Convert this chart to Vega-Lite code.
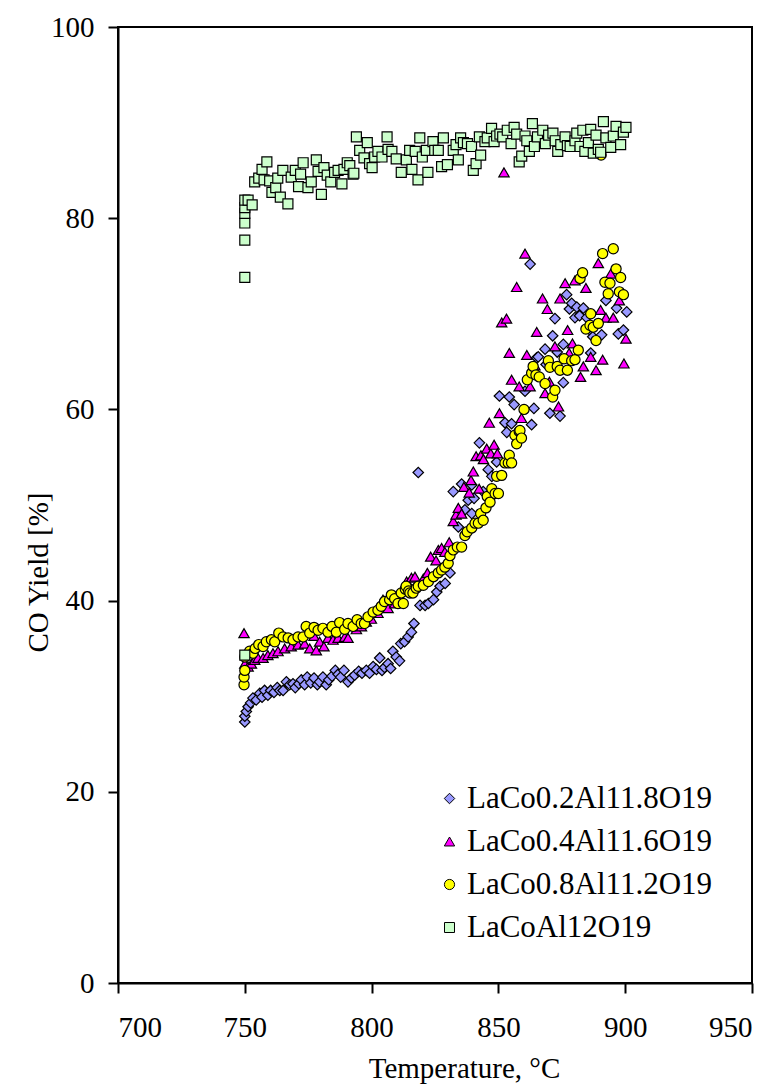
{
  "$schema": "https://vega.github.io/schema/vega-lite/v6.json",
  "width": 634,
  "height": 956,
  "padding": {"left": 118, "top": 27, "right": 29, "bottom": 104},
  "autosize": {"type": "none"},
  "background": "white",
  "config": {
    "view": {"stroke": "black", "strokeWidth": 2},
    "font": "Liberation Serif",
    "axis": {
      "grid": false,
      "domainColor": "black",
      "domainWidth": 2,
      "tickColor": "black",
      "tickWidth": 2,
      "tickSize": 10,
      "labelFont": "Liberation Serif",
      "labelFontSize": 29,
      "labelColor": "black",
      "titleFont": "Liberation Serif",
      "titleFontSize": 29,
      "titleFontWeight": "normal",
      "titleColor": "black"
    },
    "legend": {
      "labelFont": "Liberation Serif",
      "labelFontSize": 31,
      "labelColor": "black",
      "labelLimit": 0
    }
  },
  "data": {"values": [
{"s":"A","t":750,"y":27.3},{"s":"A","t":750,"y":27.9},{"s":"A","t":750.6,"y":28.4},{"s":"A","t":751.3,"y":28.9},{"s":"A","t":752.3,"y":29.3},{"s":"A","t":753.2,"y":29.8},{"s":"A","t":754.5,"y":29.6},{"s":"A","t":755.9,"y":30.3},{"s":"A","t":756.8,"y":29.9},{"s":"A","t":757.8,"y":30.6},{"s":"A","t":759.1,"y":30.1},{"s":"A","t":760.2,"y":30.6},{"s":"A","t":761.5,"y":30.4},{"s":"A","t":762.8,"y":30.9},{"s":"A","t":763.8,"y":30.6},{"s":"A","t":765.1,"y":30.6},{"s":"A","t":766.4,"y":31.5},{"s":"A","t":767.7,"y":31.2},{"s":"A","t":769,"y":31.3},{"s":"A","t":769.9,"y":30.9},{"s":"A","t":771.3,"y":31.3},{"s":"A","t":772.3,"y":31.7},{"s":"A","t":773.6,"y":31.2},{"s":"A","t":774.6,"y":32.0},{"s":"A","t":776,"y":31.4},{"s":"A","t":777.3,"y":31.9},{"s":"A","t":778.6,"y":31.2},{"s":"A","t":779.5,"y":31.5},{"s":"A","t":780.8,"y":32.0},{"s":"A","t":782.1,"y":31.2},{"s":"A","t":783.1,"y":31.7},{"s":"A","t":784.4,"y":32.1},{"s":"A","t":785.7,"y":32.7},{"s":"A","t":786.8,"y":32.3},{"s":"A","t":787.8,"y":32.0},{"s":"A","t":789.1,"y":32.7},{"s":"A","t":790.7,"y":31.5},{"s":"A","t":792,"y":31.9},{"s":"A","t":793.3,"y":32.2},{"s":"A","t":794.9,"y":32.6},{"s":"A","t":796.2,"y":32.4},{"s":"A","t":797.9,"y":32.7},{"s":"A","t":799.2,"y":32.4},{"s":"A","t":800.6,"y":33.1},{"s":"A","t":801.9,"y":32.8},{"s":"A","t":803.2,"y":34.0},{"s":"A","t":804.1,"y":32.7},{"s":"A","t":805.1,"y":33.0},{"s":"A","t":806.5,"y":33.4},{"s":"A","t":807.5,"y":32.9},{"s":"A","t":808.4,"y":34.7},{"s":"A","t":809.7,"y":34.1},{"s":"A","t":811,"y":33.7},{"s":"A","t":811.5,"y":35.5},{"s":"A","t":813,"y":35.7},{"s":"A","t":814.4,"y":36.2},{"s":"A","t":815.7,"y":36.7},{"s":"A","t":816.7,"y":37.6},{"s":"A","t":818.4,"y":53.4},{"s":"A","t":819.1,"y":39.5},{"s":"A","t":821.1,"y":39.5},{"s":"A","t":822.4,"y":39.7},{"s":"A","t":824.4,"y":40.1},{"s":"A","t":825.7,"y":40.9},{"s":"A","t":827,"y":41.5},{"s":"A","t":829,"y":41.8},{"s":"A","t":830.9,"y":42.9},{"s":"A","t":832.2,"y":51.4},{"s":"A","t":834.2,"y":47.7},{"s":"A","t":835.5,"y":52.2},{"s":"A","t":836.8,"y":49.5},{"s":"A","t":838.1,"y":50.5},{"s":"A","t":839.5,"y":49.1},{"s":"A","t":839.5,"y":52.1},{"s":"A","t":840.4,"y":50.7},{"s":"A","t":842.5,"y":56.5},{"s":"A","t":844,"y":51.4},{"s":"A","t":846,"y":53.7},{"s":"A","t":847.4,"y":53.0},{"s":"A","t":849.3,"y":54.5},{"s":"A","t":850.4,"y":61.4},{"s":"A","t":852.6,"y":58.6},{"s":"A","t":853.3,"y":57.6},{"s":"A","t":854.3,"y":61.3},{"s":"A","t":855.2,"y":58.5},{"s":"A","t":856.2,"y":60.5},{"s":"A","t":860.5,"y":61.9},{"s":"A","t":862.5,"y":75.2},{"s":"A","t":863.1,"y":58.4},{"s":"A","t":864,"y":60.1},{"s":"A","t":865.1,"y":65.4},{"s":"A","t":865.7,"y":65.5},{"s":"A","t":868.4,"y":66.3},{"s":"A","t":868.8,"y":64.7},{"s":"A","t":870.3,"y":59.6},{"s":"A","t":871.4,"y":67.7},{"s":"A","t":872.3,"y":69.5},{"s":"A","t":873.2,"y":66.0},{"s":"A","t":874.3,"y":59.3},{"s":"A","t":875.6,"y":66.8},{"s":"A","t":875.6,"y":62.8},{"s":"A","t":876.9,"y":72.0},{"s":"A","t":878,"y":70.5},{"s":"A","t":878.9,"y":71.1},{"s":"A","t":880.2,"y":69.6},{"s":"A","t":880.9,"y":70.7},{"s":"A","t":882,"y":69.8},{"s":"A","t":883.5,"y":70.6},{"s":"A","t":884.8,"y":69.6},{"s":"A","t":886.1,"y":68.3},{"s":"A","t":886.4,"y":65.9},{"s":"A","t":887.2,"y":67.6},{"s":"A","t":890.7,"y":67.8},{"s":"A","t":892.4,"y":71.4},{"s":"A","t":896.6,"y":70.6},{"s":"A","t":897.3,"y":67.9},{"s":"A","t":899.3,"y":68.3},{"s":"A","t":900.6,"y":70.2},
{"s":"B","t":749.7,"y":36.6},{"s":"B","t":750,"y":33.4},{"s":"B","t":751.3,"y":33.1},{"s":"B","t":752.6,"y":33.4},{"s":"B","t":753.9,"y":33.8},{"s":"B","t":755.2,"y":34.0},{"s":"B","t":757.2,"y":34.0},{"s":"B","t":759.1,"y":34.3},{"s":"B","t":761.1,"y":34.5},{"s":"B","t":763.1,"y":34.7},{"s":"B","t":765.7,"y":35.0},{"s":"B","t":768.3,"y":35.2},{"s":"B","t":771,"y":35.4},{"s":"B","t":773.6,"y":35.5},{"s":"B","t":775.6,"y":35.0},{"s":"B","t":777.3,"y":36.3},{"s":"B","t":778.2,"y":34.8},{"s":"B","t":779.5,"y":35.7},{"s":"B","t":781.2,"y":35.2},{"s":"B","t":782.8,"y":36.1},{"s":"B","t":784.8,"y":35.9},{"s":"B","t":786.8,"y":36.1},{"s":"B","t":789.4,"y":36.2},{"s":"B","t":790.7,"y":36.1},{"s":"B","t":794,"y":37.0},{"s":"B","t":796,"y":37.3},{"s":"B","t":797.9,"y":37.8},{"s":"B","t":799.9,"y":38.1},{"s":"B","t":802.5,"y":38.7},{"s":"B","t":804.5,"y":40.1},{"s":"B","t":806.5,"y":39.2},{"s":"B","t":809.1,"y":39.7},{"s":"B","t":811.7,"y":40.2},{"s":"B","t":813.8,"y":42.0},{"s":"B","t":814.4,"y":41.8},{"s":"B","t":815.7,"y":42.4},{"s":"B","t":817.1,"y":42.5},{"s":"B","t":820.4,"y":42.3},{"s":"B","t":822,"y":42.9},{"s":"B","t":823.3,"y":44.6},{"s":"B","t":825.4,"y":44.2},{"s":"B","t":826.3,"y":45.3},{"s":"B","t":827.6,"y":45.5},{"s":"B","t":828.9,"y":45.1},{"s":"B","t":830.6,"y":46.1},{"s":"B","t":832.2,"y":48.3},{"s":"B","t":833.3,"y":49.0},{"s":"B","t":834.2,"y":49.7},{"s":"B","t":835.5,"y":49.1},{"s":"B","t":836.4,"y":51.9},{"s":"B","t":838.5,"y":51.3},{"s":"B","t":839.2,"y":52.6},{"s":"B","t":840.1,"y":53.5},{"s":"B","t":841.2,"y":55.1},{"s":"B","t":842.4,"y":51.7},{"s":"B","t":843.1,"y":55.2},{"s":"B","t":844.1,"y":54.8},{"s":"B","t":845.4,"y":55.9},{"s":"B","t":846.4,"y":58.6},{"s":"B","t":847,"y":55.4},{"s":"B","t":848.3,"y":56.3},{"s":"B","t":849.6,"y":55.4},{"s":"B","t":850.4,"y":59.6},{"s":"B","t":851.3,"y":69.1},{"s":"B","t":852.2,"y":84.8},{"s":"B","t":853.2,"y":69.5},{"s":"B","t":854.3,"y":65.9},{"s":"B","t":855.2,"y":63.1},{"s":"B","t":857.2,"y":72.8},{"s":"B","t":858.2,"y":62.4},{"s":"B","t":859.1,"y":59.1},{"s":"B","t":860.5,"y":76.3},{"s":"B","t":861.2,"y":65.7},{"s":"B","t":862.5,"y":62.4},{"s":"B","t":864.4,"y":64.6},{"s":"B","t":865.1,"y":68.1},{"s":"B","t":867.4,"y":71.6},{"s":"B","t":868.4,"y":61.7},{"s":"B","t":869.3,"y":70.5},{"s":"B","t":870.1,"y":62.9},{"s":"B","t":872.3,"y":66.6},{"s":"B","t":873.7,"y":60.3},{"s":"B","t":874.3,"y":71.6},{"s":"B","t":876.3,"y":73.2},{"s":"B","t":877.3,"y":68.3},{"s":"B","t":877.9,"y":65.9},{"s":"B","t":879.2,"y":66.9},{"s":"B","t":880.2,"y":73.5},{"s":"B","t":882.4,"y":63.4},{"s":"B","t":883.5,"y":64.5},{"s":"B","t":884.5,"y":72.7},{"s":"B","t":886.4,"y":65.5},{"s":"B","t":888.5,"y":64.1},{"s":"B","t":889.4,"y":75.3},{"s":"B","t":890.3,"y":70.4},{"s":"B","t":891.1,"y":65.2},{"s":"B","t":892.4,"y":69.6},{"s":"B","t":894.3,"y":74.2},{"s":"B","t":895.3,"y":69.6},{"s":"B","t":897.7,"y":71.4},{"s":"B","t":899.5,"y":64.8},{"s":"B","t":900.3,"y":67.4},
{"s":"C","t":749.7,"y":31.2},{"s":"C","t":749.7,"y":32.0},{"s":"C","t":750,"y":32.7},{"s":"C","t":750,"y":34.1},{"s":"C","t":751.9,"y":34.7},{"s":"C","t":753.2,"y":34.5},{"s":"C","t":754.1,"y":35.0},{"s":"C","t":755.5,"y":35.4},{"s":"C","t":757.2,"y":35.2},{"s":"C","t":758.5,"y":35.7},{"s":"C","t":760.5,"y":35.9},{"s":"C","t":761.8,"y":35.7},{"s":"C","t":763.4,"y":36.6},{"s":"C","t":765.1,"y":36.2},{"s":"C","t":767.1,"y":36.1},{"s":"C","t":769,"y":35.9},{"s":"C","t":771,"y":36.2},{"s":"C","t":773,"y":36.2},{"s":"C","t":774.2,"y":37.3},{"s":"C","t":775.6,"y":36.6},{"s":"C","t":777.3,"y":37.2},{"s":"C","t":778.9,"y":36.9},{"s":"C","t":780.8,"y":37.1},{"s":"C","t":782.8,"y":36.7},{"s":"C","t":784.4,"y":37.3},{"s":"C","t":786.1,"y":36.7},{"s":"C","t":787.4,"y":37.7},{"s":"C","t":789.4,"y":37.0},{"s":"C","t":790.7,"y":37.6},{"s":"C","t":792.7,"y":37.3},{"s":"C","t":794.3,"y":38.0},{"s":"C","t":795.9,"y":37.6},{"s":"C","t":797.2,"y":37.6},{"s":"C","t":798.6,"y":38.3},{"s":"C","t":800.6,"y":38.8},{"s":"C","t":802.5,"y":39.0},{"s":"C","t":803.8,"y":39.4},{"s":"C","t":805.1,"y":39.9},{"s":"C","t":807.1,"y":40.1},{"s":"C","t":807.8,"y":40.6},{"s":"C","t":809.1,"y":40.2},{"s":"C","t":810.4,"y":39.7},{"s":"C","t":811.7,"y":40.8},{"s":"C","t":812.5,"y":39.7},{"s":"C","t":813.3,"y":41.2},{"s":"C","t":813.6,"y":41.5},{"s":"C","t":814.6,"y":41.0},{"s":"C","t":815.1,"y":40.8},{"s":"C","t":816.3,"y":40.8},{"s":"C","t":817.6,"y":41.3},{"s":"C","t":818.4,"y":41.5},{"s":"C","t":820.4,"y":41.6},{"s":"C","t":822.4,"y":42.0},{"s":"C","t":824.4,"y":42.5},{"s":"C","t":826.3,"y":42.9},{"s":"C","t":827.6,"y":43.2},{"s":"C","t":828.9,"y":43.5},{"s":"C","t":830.2,"y":43.9},{"s":"C","t":830.9,"y":44.7},{"s":"C","t":832.2,"y":45.3},{"s":"C","t":833.8,"y":45.6},{"s":"C","t":835.5,"y":45.6},{"s":"C","t":836.8,"y":46.8},{"s":"C","t":837.7,"y":47.2},{"s":"C","t":839.5,"y":47.6},{"s":"C","t":840.8,"y":48.1},{"s":"C","t":842.1,"y":48.1},{"s":"C","t":843,"y":49.1},{"s":"C","t":844,"y":48.4},{"s":"C","t":845.1,"y":49.7},{"s":"C","t":845.6,"y":50.9},{"s":"C","t":846.7,"y":50.3},{"s":"C","t":847.4,"y":51.7},{"s":"C","t":848.7,"y":51.2},{"s":"C","t":849.3,"y":53.0},{"s":"C","t":850,"y":51.2},{"s":"C","t":851.3,"y":53.1},{"s":"C","t":852.6,"y":54.4},{"s":"C","t":853.9,"y":54.4},{"s":"C","t":854.3,"y":55.2},{"s":"C","t":855.2,"y":54.4},{"s":"C","t":856.5,"y":57.3},{"s":"C","t":857.2,"y":56.4},{"s":"C","t":858.2,"y":57.7},{"s":"C","t":858.5,"y":57.8},{"s":"C","t":859.1,"y":57.0},{"s":"C","t":860.1,"y":60.0},{"s":"C","t":861.4,"y":63.1},{"s":"C","t":863.1,"y":63.8},{"s":"C","t":863.7,"y":64.5},{"s":"C","t":864.8,"y":63.6},{"s":"C","t":866.1,"y":63.4},{"s":"C","t":868.4,"y":62.7},{"s":"C","t":869.7,"y":65.1},{"s":"C","t":870.3,"y":64.4},{"s":"C","t":871.4,"y":61.3},{"s":"C","t":872.3,"y":62.0},{"s":"C","t":873.2,"y":64.5},{"s":"C","t":874.3,"y":64.1},{"s":"C","t":875.9,"y":65.3},{"s":"C","t":877.2,"y":64.1},{"s":"C","t":878.9,"y":65.1},{"s":"C","t":880.2,"y":65.2},{"s":"C","t":881.5,"y":66.2},{"s":"C","t":882.2,"y":73.7},{"s":"C","t":883.2,"y":74.3},{"s":"C","t":884.5,"y":68.4},{"s":"C","t":886.1,"y":68.8},{"s":"C","t":886.4,"y":70.0},{"s":"C","t":887.4,"y":68.6},{"s":"C","t":888.5,"y":67.2},{"s":"C","t":889.4,"y":69.0},{"s":"C","t":890.5,"y":86.6},{"s":"C","t":891.1,"y":76.3},{"s":"C","t":892,"y":73.3},{"s":"C","t":893.3,"y":72.1},{"s":"C","t":894,"y":73.2},{"s":"C","t":895.3,"y":76.8},{"s":"C","t":896.4,"y":74.7},{"s":"C","t":897.7,"y":72.3},{"s":"C","t":898.2,"y":73.8},{"s":"C","t":899.3,"y":72.0},
{"s":"D","t":750,"y":73.8},{"s":"D","t":750,"y":77.7},{"s":"D","t":750,"y":79.5},{"s":"D","t":750,"y":80.5},{"s":"D","t":750,"y":81.1},{"s":"D","t":750,"y":81.9},{"s":"D","t":751.3,"y":81.9},{"s":"D","t":752.9,"y":81.4},{"s":"D","t":750,"y":34.3},{"s":"D","t":753.9,"y":83.8},{"s":"D","t":755.5,"y":84.2},{"s":"D","t":756.8,"y":85.1},{"s":"D","t":757.6,"y":84.0},{"s":"D","t":758.7,"y":85.9},{"s":"D","t":759.8,"y":83.9},{"s":"D","t":760.7,"y":82.7},{"s":"D","t":762.2,"y":83.2},{"s":"D","t":763,"y":84.2},{"s":"D","t":764,"y":82.2},{"s":"D","t":765,"y":85.0},{"s":"D","t":767,"y":81.5},{"s":"D","t":768.3,"y":84.3},{"s":"D","t":769.9,"y":85.0},{"s":"D","t":771.2,"y":83.3},{"s":"D","t":772,"y":84.6},{"s":"D","t":773,"y":85.8},{"s":"D","t":774.9,"y":83.2},{"s":"D","t":776.2,"y":83.8},{"s":"D","t":778.2,"y":86.1},{"s":"D","t":778.9,"y":84.9},{"s":"D","t":780.2,"y":82.5},{"s":"D","t":781.2,"y":85.3},{"s":"D","t":782.5,"y":84.5},{"s":"D","t":783.9,"y":83.8},{"s":"D","t":785.4,"y":84.8},{"s":"D","t":786.8,"y":85.0},{"s":"D","t":788.3,"y":83.6},{"s":"D","t":789.1,"y":85.1},{"s":"D","t":790.4,"y":85.8},{"s":"D","t":791.4,"y":85.5},{"s":"D","t":792.7,"y":84.6},{"s":"D","t":793,"y":84.7},{"s":"D","t":794,"y":88.5},{"s":"D","t":795.3,"y":87.1},{"s":"D","t":797,"y":86.3},{"s":"D","t":798.3,"y":87.9},{"s":"D","t":799.2,"y":85.7},{"s":"D","t":800.2,"y":85.3},{"s":"D","t":801.2,"y":86.4},{"s":"D","t":802.5,"y":87.0},{"s":"D","t":804.1,"y":86.4},{"s":"D","t":806.1,"y":88.5},{"s":"D","t":806.5,"y":87.2},{"s":"D","t":808,"y":87.0},{"s":"D","t":809.7,"y":86.2},{"s":"D","t":811.7,"y":84.8},{"s":"D","t":813.7,"y":86.1},{"s":"D","t":815,"y":87.1},{"s":"D","t":815.9,"y":85.1},{"s":"D","t":817.2,"y":87.0},{"s":"D","t":818.3,"y":84.0},{"s":"D","t":819,"y":88.4},{"s":"D","t":820,"y":86.4},{"s":"D","t":821.6,"y":87.1},{"s":"D","t":822.2,"y":84.8},{"s":"D","t":824.2,"y":88.0},{"s":"D","t":824.9,"y":87.1},{"s":"D","t":826.3,"y":87.1},{"s":"D","t":827.6,"y":85.4},{"s":"D","t":828.3,"y":88.4},{"s":"D","t":829.9,"y":85.6},{"s":"D","t":832.2,"y":87.1},{"s":"D","t":833.3,"y":87.7},{"s":"D","t":834.2,"y":86.1},{"s":"D","t":835.1,"y":88.4},{"s":"D","t":836.2,"y":87.9},{"s":"D","t":837.8,"y":87.8},{"s":"D","t":839.4,"y":87.5},{"s":"D","t":840.1,"y":85.0},{"s":"D","t":841.2,"y":85.7},{"s":"D","t":842.5,"y":88.5},{"s":"D","t":843,"y":86.6},{"s":"D","t":844.7,"y":88.0},{"s":"D","t":845.6,"y":88.4},{"s":"D","t":847.3,"y":89.4},{"s":"D","t":848.3,"y":88.0},{"s":"D","t":849.3,"y":88.6},{"s":"D","t":850.6,"y":88.8},{"s":"D","t":851.7,"y":88.5},{"s":"D","t":853.5,"y":89.2},{"s":"D","t":855,"y":87.8},{"s":"D","t":856.2,"y":89.5},{"s":"D","t":857.2,"y":88.8},{"s":"D","t":858.2,"y":85.9},{"s":"D","t":859.2,"y":86.5},{"s":"D","t":860.5,"y":88.6},{"s":"D","t":861.2,"y":88.1},{"s":"D","t":862.2,"y":87.0},{"s":"D","t":863.4,"y":89.9},{"s":"D","t":864.2,"y":87.5},{"s":"D","t":865.4,"y":88.5},{"s":"D","t":867.5,"y":89.2},{"s":"D","t":868.5,"y":87.8},{"s":"D","t":869.8,"y":88.7},{"s":"D","t":871.5,"y":88.9},{"s":"D","t":872.4,"y":88.1},{"s":"D","t":873.4,"y":87.0},{"s":"D","t":874.6,"y":87.7},{"s":"D","t":876.3,"y":88.5},{"s":"D","t":877.2,"y":87.6},{"s":"D","t":878.3,"y":87.5},{"s":"D","t":880.2,"y":88.1},{"s":"D","t":880.9,"y":88.9},{"s":"D","t":882.2,"y":87.5},{"s":"D","t":883.3,"y":89.2},{"s":"D","t":884.1,"y":87.0},{"s":"D","t":885.5,"y":87.9},{"s":"D","t":886.4,"y":89.3},{"s":"D","t":887.4,"y":86.8},{"s":"D","t":888.5,"y":88.7},{"s":"D","t":889.4,"y":87.2},{"s":"D","t":890.3,"y":86.9},{"s":"D","t":891.4,"y":90.1},{"s":"D","t":892.4,"y":88.4},{"s":"D","t":894.3,"y":87.4},{"s":"D","t":895.3,"y":88.6},{"s":"D","t":896.4,"y":89.6},{"s":"D","t":898.2,"y":87.7},{"s":"D","t":899.3,"y":89.0},{"s":"D","t":900.3,"y":89.5}
  ]},
  "mark": {"type": "point", "filled": true, "stroke": "black", "strokeWidth": 1.2, "opacity": 1, "clip": true},
  "encoding": {
    "x": {
      "field": "t", "type": "quantitative",
      "scale": {"domain": [700, 950], "nice": false, "zero": false},
      "axis": {
        "values": [700, 750, 800, 850, 900, 950],
        "labelPadding": 20,
        "title": "Temperature, °C",
        "titleX": 346,
        "titleY": 94,
        "titleBaseline": "alphabetic",
        "titleAnchor": null
      }
    },
    "y": {
      "field": "y", "type": "quantitative",
      "scale": {"domain": [0, 100], "nice": false},
      "axis": {
        "values": [0, 20, 40, 60, 80, 100],
        "labelPadding": 14,
        "title": "CO Yield [%]",
        "titleX": -71,
        "titleY": 545,
        "titleAngle": -90,
        "titleAlign": "center",
        "titleBaseline": "alphabetic"
      }
    },
    "color": {
      "field": "s", "type": "nominal",
      "scale": {"domain": ["A", "B", "C", "D"], "range": ["#9999FF", "#FF00FF", "#FFFF00", "#CCFFCC"]},
      "legend": {
        "title": null,
        "orient": "none",
        "legendX": 316,
        "legendY": 756,
        "padding": 0,
        "symbolSize": 30,
        "symbolStrokeColor": "black",
        "symbolStrokeWidth": 1,
        "labelOffset": 2,
        "rowPadding": 11,
        "labelExpr": "{'A': 'LaCo0.2Al11.8O19', 'B': 'LaCo0.4Al11.6O19', 'C': 'LaCo0.8Al11.2O19', 'D': 'LaCoAl12O19'}[datum.label]"
      }
    },
    "shape": {
      "field": "s", "type": "nominal",
      "scale": {"domain": ["A", "B", "C", "D"], "range": ["diamond", "triangle-up", "circle", "square"]},
      "legend": null
    },
    "size": {
      "field": "s", "type": "nominal",
      "scale": {"domain": ["A", "B", "C", "D"], "range": [110, 100, 120, 100]},
      "legend": null
    }
  }
}
